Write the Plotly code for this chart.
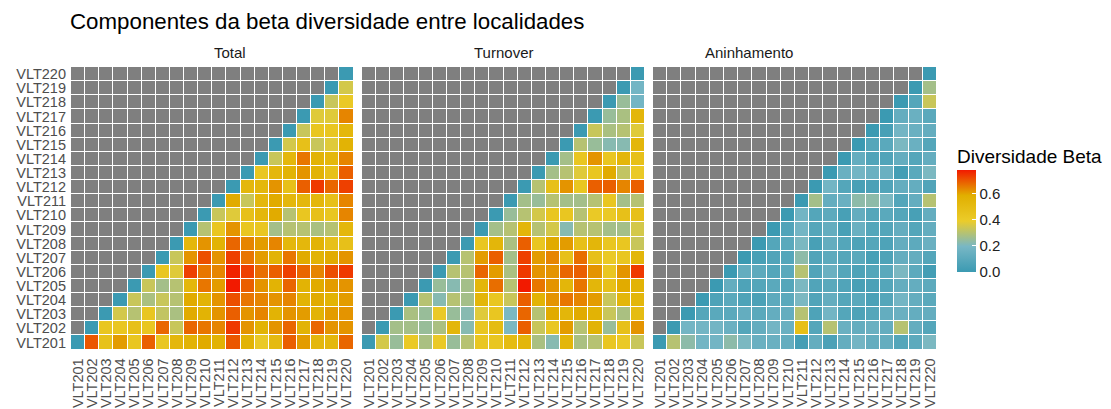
import plotly.graph_objects as go

# ---------------- data ----------------
sites = [f"VLT{n}" for n in range(201, 221)]
panel_titles = ["Total", "Turnover", "Aninhamento"]
legend_title = "Diversidade Beta"
chart_title = "Componentes da beta diversidade entre localidades"
cbar_ticks = [0.0, 0.2, 0.4, 0.6]
cbar_ticktext = ["0.0", "0.2", "0.4", "0.6"]

# each row: site i compared with sites i..220 (upper triangle incl. diagonal)
total_rows = [
    [0, 0.70, 0.46, 0.61, 0.43, 0.69, 0.43, 0.53, 0.56, 0.59, 0.56, 0.70, 0.56, 0.41, 0.51, 0.69, 0.61, 0.53, 0.53, 0.68],
    [0, 0.43, 0.43, 0.47, 0.43, 0.68, 0.33, 0.68, 0.66, 0.64, 0.74, 0.62, 0.56, 0.62, 0.68, 0.56, 0.68, 0.62, 0.62],
    [0, 0.35, 0.30, 0.43, 0.32, 0.28, 0.59, 0.56, 0.62, 0.69, 0.62, 0.64, 0.56, 0.62, 0.61, 0.56, 0.61, 0.62],
    [0, 0.33, 0.28, 0.33, 0.30, 0.59, 0.56, 0.62, 0.71, 0.66, 0.64, 0.62, 0.64, 0.56, 0.59, 0.56, 0.61],
    [0, 0.33, 0.27, 0.30, 0.53, 0.66, 0.61, 0.78, 0.69, 0.62, 0.56, 0.68, 0.56, 0.59, 0.61, 0.62],
    [0, 0.43, 0.37, 0.73, 0.66, 0.64, 0.77, 0.73, 0.67, 0.69, 0.73, 0.68, 0.64, 0.71, 0.74],
    [0, 0.33, 0.62, 0.71, 0.62, 0.73, 0.66, 0.61, 0.56, 0.66, 0.59, 0.56, 0.59, 0.62],
    [0, 0.53, 0.62, 0.56, 0.68, 0.64, 0.61, 0.64, 0.53, 0.53, 0.56, 0.47, 0.47],
    [0, 0.30, 0.43, 0.62, 0.43, 0.43, 0.27, 0.30, 0.30, 0.28, 0.30, 0.53],
    [0, 0.33, 0.37, 0.47, 0.53, 0.59, 0.30, 0.43, 0.47, 0.43, 0.64],
    [0, 0.59, 0.33, 0.53, 0.59, 0.53, 0.53, 0.53, 0.47, 0.64],
    [0, 0.53, 0.53, 0.62, 0.47, 0.69, 0.74, 0.68, 0.73],
    [0, 0.43, 0.53, 0.56, 0.62, 0.56, 0.47, 0.69],
    [0, 0.33, 0.53, 0.66, 0.56, 0.53, 0.64],
    [0, 0.35, 0.47, 0.33, 0.37, 0.56],
    [0, 0.33, 0.43, 0.43, 0.53],
    [0, 0.37, 0.37, 0.64],
    [0, 0.33, 0.41],
    [0, 0.35],
    [0],
]

turnover_rows = [
    [0, 0.35, 0.25, 0.41, 0.28, 0.41, 0.25, 0.30, 0.43, 0.43, 0.50, 0.54, 0.28, 0.22, 0.54, 0.28, 0.30, 0.43, 0.41, 0.33],
    [0, 0.27, 0.27, 0.25, 0.28, 0.54, 0.22, 0.43, 0.50, 0.20, 0.69, 0.33, 0.43, 0.61, 0.30, 0.56, 0.25, 0.47, 0.62],
    [0, 0.28, 0.25, 0.41, 0.25, 0.22, 0.37, 0.43, 0.20, 0.68, 0.30, 0.59, 0.54, 0.59, 0.56, 0.33, 0.28, 0.50],
    [0, 0.30, 0.22, 0.30, 0.27, 0.54, 0.43, 0.33, 0.69, 0.56, 0.62, 0.66, 0.64, 0.61, 0.33, 0.54, 0.54],
    [0, 0.25, 0.22, 0.27, 0.54, 0.67, 0.30, 0.78, 0.66, 0.62, 0.54, 0.66, 0.54, 0.47, 0.59, 0.56],
    [0, 0.30, 0.30, 0.68, 0.61, 0.28, 0.74, 0.62, 0.62, 0.68, 0.69, 0.62, 0.43, 0.62, 0.74],
    [0, 0.30, 0.61, 0.69, 0.27, 0.73, 0.61, 0.64, 0.47, 0.67, 0.47, 0.41, 0.43, 0.54],
    [0, 0.43, 0.54, 0.28, 0.69, 0.43, 0.59, 0.61, 0.47, 0.54, 0.43, 0.43, 0.33],
    [0, 0.27, 0.30, 0.54, 0.30, 0.35, 0.22, 0.30, 0.30, 0.27, 0.27, 0.35],
    [0, 0.25, 0.30, 0.35, 0.43, 0.43, 0.30, 0.41, 0.41, 0.47, 0.47],
    [0, 0.27, 0.25, 0.30, 0.27, 0.27, 0.30, 0.43, 0.27, 0.30],
    [0, 0.30, 0.47, 0.62, 0.43, 0.69, 0.69, 0.64, 0.69],
    [0, 0.27, 0.30, 0.37, 0.43, 0.59, 0.32, 0.41],
    [0, 0.27, 0.43, 0.62, 0.43, 0.54, 0.47],
    [0, 0.30, 0.25, 0.22, 0.22, 0.54],
    [0, 0.33, 0.28, 0.30, 0.37],
    [0, 0.25, 0.28, 0.54],
    [0, 0.25, 0.18],
    [0, 0.18],
    [0],
]

aninhamento_rows = [
    [0, 0.30, 0.23, 0.18, 0.18, 0.23, 0.20, 0.15, 0.15, 0.13, 0.03, 0.13, 0.05, 0.13, 0.18, 0.13, 0.13, 0.08, 0.11, 0.20],
    [0, 0.18, 0.18, 0.18, 0.15, 0.08, 0.13, 0.18, 0.15, 0.48, 0.08, 0.30, 0.15, 0.13, 0.15, 0.13, 0.30, 0.13, 0.08],
    [0, 0.08, 0.10, 0.10, 0.13, 0.10, 0.13, 0.13, 0.30, 0.06, 0.18, 0.08, 0.06, 0.08, 0.13, 0.15, 0.13, 0.13],
    [0, 0.06, 0.10, 0.06, 0.05, 0.11, 0.10, 0.20, 0.07, 0.13, 0.08, 0.10, 0.05, 0.08, 0.18, 0.13, 0.10],
    [0, 0.13, 0.06, 0.08, 0.10, 0.08, 0.20, 0.07, 0.10, 0.07, 0.04, 0.05, 0.08, 0.13, 0.13, 0.11],
    [0, 0.13, 0.11, 0.08, 0.10, 0.30, 0.07, 0.15, 0.08, 0.06, 0.08, 0.10, 0.20, 0.11, 0.03],
    [0, 0.04, 0.07, 0.08, 0.23, 0.07, 0.11, 0.08, 0.10, 0.04, 0.06, 0.13, 0.13, 0.08],
    [0, 0.08, 0.10, 0.20, 0.04, 0.13, 0.08, 0.06, 0.08, 0.06, 0.13, 0.11, 0.15],
    [0, 0.07, 0.18, 0.08, 0.13, 0.04, 0.15, 0.08, 0.08, 0.13, 0.08, 0.13],
    [0, 0.18, 0.08, 0.11, 0.04, 0.13, 0.08, 0.10, 0.08, 0.04, 0.13],
    [0, 0.27, 0.13, 0.15, 0.23, 0.23, 0.20, 0.08, 0.13, 0.30],
    [0, 0.18, 0.08, 0.04, 0.05, 0.07, 0.13, 0.13, 0.07],
    [0, 0.15, 0.18, 0.15, 0.15, 0.03, 0.10, 0.20],
    [0, 0.13, 0.07, 0.07, 0.13, 0.08, 0.13],
    [0, 0.08, 0.10, 0.20, 0.15, 0.08],
    [0, 0.04, 0.18, 0.15, 0.13],
    [0, 0.13, 0.15, 0.10],
    [0, 0.08, 0.33],
    [0, 0.27],
    [0],
]

# ---------------- helpers ----------------
def to_matrix(rows):
    n = len(sites)
    z = [[None] * n for _ in range(n)]
    for i, r in enumerate(rows):
        for k, v in enumerate(r):
            z[i][i + k] = v
    return z

ZISSOU = ["#3B9AB2", "#78B7C5", "#EBCC2A", "#E1AF00", "#F21A00"]
colorscale = [[i / (len(ZISSOU) - 1), c] for i, c in enumerate(ZISSOU)]
ZMIN, ZMAX = 0.0, 0.78

W, H = 1111, 409
FONT = "Arial, Liberation Sans, Helvetica, sans-serif"
xdoms = [[71 / W, 353.5 / W], [362 / W, 645 / W], [653 / W, 937 / W]]
ydom = [(H - 349.5) / H, (H - 67) / H]

fig = go.Figure()
panels = [total_rows, turnover_rows, aninhamento_rows]
for p, rows in enumerate(panels):
    xa = "x" if p == 0 else f"x{p + 1}"
    ya = "y" if p == 0 else f"y{p + 1}"
    # grey background tiles (NA cells)
    fig.add_trace(go.Heatmap(
        x=sites, y=sites, z=[[1] * len(sites) for _ in sites],
        colorscale=[[0, "#7F7F7F"], [1, "#7F7F7F"]], showscale=False,
        xgap=1, ygap=1, hoverinfo="skip", xaxis=xa, yaxis=ya))
    fig.add_trace(go.Heatmap(
        x=sites, y=sites, z=to_matrix(rows),
        colorscale=colorscale, zmin=ZMIN, zmax=ZMAX,
        xgap=1, ygap=1, xaxis=xa, yaxis=ya,
        showscale=(p == 0),
        hovertemplate="%{x} / %{y}: %{z:.2f}<extra>" + panel_titles[p] + "</extra>",
        colorbar=dict(
            x=957 / W, xanchor="left", xref="paper",
            y=(H - 221) / H, yanchor="middle", yref="paper",
            len=102 / H, lenmode="fraction", thickness=19,
            xpad=0, ypad=0,
            outlinewidth=0, tickvals=cbar_ticks, ticktext=cbar_ticktext,
            ticks="inside", ticklen=4, tickcolor="white", tickwidth=1,
            tickfont=dict(size=15, color="#222222", family=FONT),
        ),
    ))

axis_common = dict(type="category", categoryorder="array", categoryarray=sites,
                   range=[-0.5, len(sites) - 0.5], showgrid=False, zeroline=False,
                   showline=False, ticks="", automargin=False,
                   tickmode="array", tickvals=sites, ticktext=sites,
                   tickfont=dict(size=14.5, color="#4D4D4D", family=FONT))

layout = dict(
    width=W, height=H, margin=dict(l=0, r=0, t=0, b=0),
    paper_bgcolor="white", plot_bgcolor="white",
    font=dict(family=FONT),
    title=dict(text=chart_title, x=70 / W, xanchor="left", xref="container",
               y=1 - 21 / H, yanchor="middle", yref="container",
               font=dict(size=22.3, color="#000000", family=FONT)),
)
for p in range(3):
    sx = "" if p == 0 else str(p + 1)
    layout["xaxis" + sx] = dict(axis_common, domain=xdoms[p], anchor="y" + sx,
                                tickangle=-90, ticklabelstandoff=5)
    layout["yaxis" + sx] = dict(axis_common, domain=ydom, anchor="x" + sx,
                                showticklabels=(p == 0), ticklabelstandoff=4)
fig.update_layout(**layout)

for p, t in enumerate(panel_titles):
    fig.add_annotation(text=t, x=(xdoms[p][0] + xdoms[p][1]) / 2, xref="paper",
                       y=(H - 52) / H, yref="paper", yanchor="middle",
                       showarrow=False, font=dict(size=15, color="#1A1A1A", family=FONT))

# legend title
fig.add_annotation(text=legend_title, x=955 / W, xref="paper", xanchor="left",
                   y=(H - 156) / H, yref="paper", yanchor="middle",
                   showarrow=False, font=dict(size=19, color="#000000", family=FONT))

fig.write_html("out.html", config={"displayModeBar": False},
               post_script="document.body.style.margin='0';")
